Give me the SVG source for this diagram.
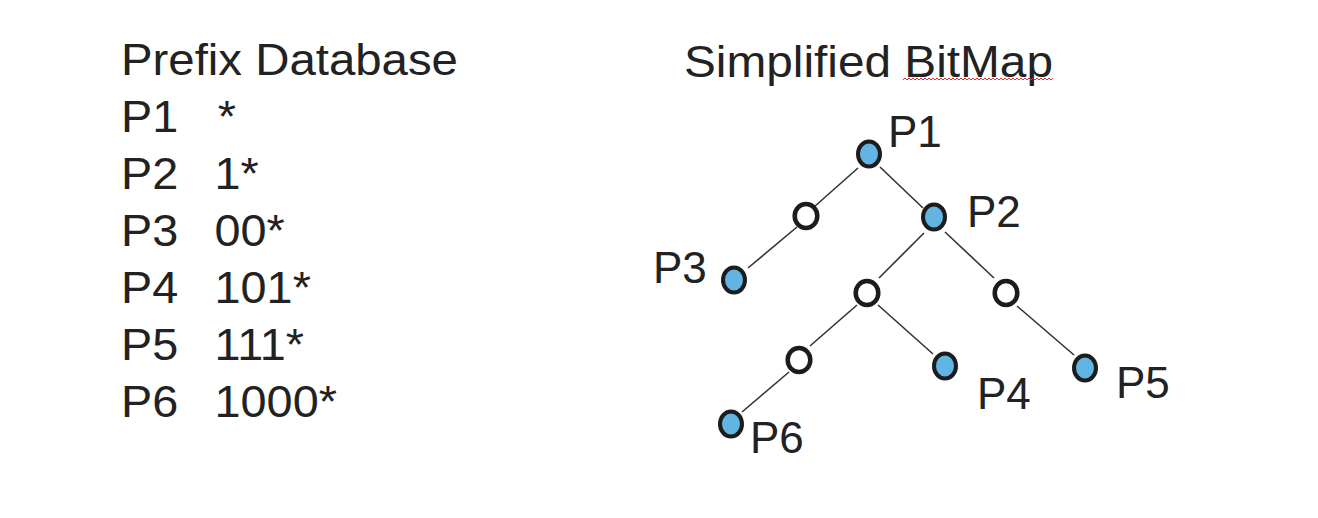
<svg xmlns="http://www.w3.org/2000/svg" width="1318" height="518" viewBox="0 0 1318 518">
<style>
.t{font-family:"Liberation Sans",Arial,sans-serif;font-size:45px;fill:#222}
.lbl{font-family:"Liberation Sans",Arial,sans-serif;font-size:44px;fill:#222}
.pfx{fill:#62b4e2;stroke:#1c1c1c;stroke-width:4}
.emp{fill:#fff;stroke:#1c1c1c;stroke-width:4.5}
.edge{stroke:#333;stroke-width:1.6;fill:none}
</style>
<rect width="1318" height="518" fill="#fff"/>
<g id="database" transform="translate(121,0) scale(1.04,1) translate(-121,0)">
<text class="t" x="121" y="75" textLength="324" lengthAdjust="spacingAndGlyphs">Prefix Database</text>
<text class="t" x="121" y="132">P1</text><text class="t" x="214" y="132">*</text>
<text class="t" x="121" y="189">P2</text><text class="t" x="211" y="189">1*</text>
<text class="t" x="121" y="246">P3</text><text class="t" x="211" y="246">00*</text>
<text class="t" x="121" y="303">P4</text><text class="t" x="211" y="303">101*</text>
<text class="t" x="121" y="360">P5</text><text class="t" x="211" y="360">111*</text>
<text class="t" x="121" y="417">P6</text><text class="t" x="211" y="417">1000*</text>
</g>
<g id="title-bitmap">
<text class="t" x="684" y="77" textLength="369" lengthAdjust="spacingAndGlyphs">Simplified BitMap</text>
<polyline fill="none" stroke="#e03030" stroke-width="1" points="903,80 905,78 907,80 909,78 911,80 913,78 915,80 917,78 919,80 921,78 923,80 925,78 927,80 929,78 931,80 933,78 935,80 937,78 939,80 941,78 943,80 945,78 947,80 949,78 951,80 953,78 955,80 957,78 959,80 961,78 963,80 965,78 967,80 969,78 971,80 973,78 975,80 977,78 979,80 981,78 983,80 985,78 987,80 989,78 991,80 993,78 995,80 997,78 999,80 1001,78 1003,80 1005,78 1007,80 1009,78 1011,80 1013,78 1015,80 1017,78 1019,80 1021,78 1023,80 1025,78 1027,80 1029,78 1031,80 1033,78 1035,80 1037,78 1039,80 1041,78 1043,80 1045,78 1047,80 1049,78 1051,80 1053,78"/>
</g>
<g id="connectors">
<line class="edge" x1="858" y1="168" x2="814" y2="207"/>
<line class="edge" x1="880" y1="167" x2="923" y2="208"/>
<line class="edge" x1="797" y1="227" x2="748" y2="268"/>
<line class="edge" x1="924" y1="233" x2="879" y2="278"/>
<line class="edge" x1="945" y1="232" x2="994" y2="278"/>
<line class="edge" x1="857" y1="305" x2="810" y2="346"/>
<line class="edge" x1="878" y1="305" x2="933" y2="354"/>
<line class="edge" x1="1017" y1="306" x2="1074" y2="355"/>
<line class="edge" x1="789" y1="372" x2="742" y2="412"/>
</g>
<g id="node-P1"><ellipse class="pfx" cx="869" cy="154" rx="11" ry="12.5"/><text class="lbl" x="888" y="147">P1</text></g>
<g id="node-O1"><ellipse class="emp" cx="806" cy="216" rx="11.3" ry="12"/></g>
<g id="node-P2"><ellipse class="pfx" cx="934" cy="217" rx="11" ry="12.5"/><text class="lbl" x="967" y="227">P2</text></g>
<g id="node-P3"><ellipse class="pfx" cx="734" cy="280" rx="11" ry="12.5"/><text class="lbl" x="653" y="283">P3</text></g>
<g id="node-O2"><ellipse class="emp" cx="867" cy="293" rx="11.3" ry="12"/></g>
<g id="node-O3"><ellipse class="emp" cx="1006" cy="293" rx="11.3" ry="12"/></g>
<g id="node-O4"><ellipse class="emp" cx="799" cy="360" rx="11.3" ry="12"/></g>
<g id="node-P4"><ellipse class="pfx" cx="945" cy="366" rx="11" ry="12.5"/><text class="lbl" x="977" y="409">P4</text></g>
<g id="node-P5"><ellipse class="pfx" cx="1085" cy="368" rx="11" ry="12.5"/><text class="lbl" x="1116" y="398">P5</text></g>
<g id="node-P6"><ellipse class="pfx" cx="731" cy="424" rx="11" ry="12.5"/><text class="lbl" x="750" y="453">P6</text></g>
</svg>
